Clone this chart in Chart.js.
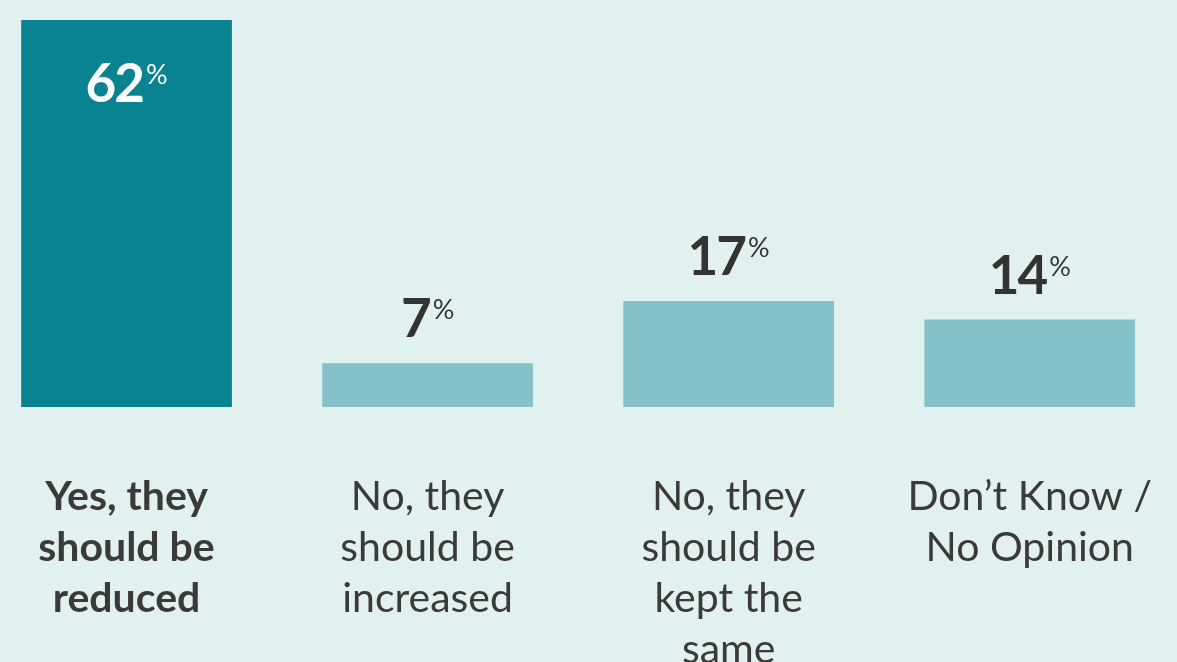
<!DOCTYPE html>
<html>
<head>
<meta charset="utf-8">
<script src="https://cdn.jsdelivr.net/npm/chart.js@4"></script>
<style>
    html, body { margin: 0; padding: 0; background: #e1f1f0; overflow: hidden; }
    .wrap { position: absolute; left: -24px; top: 0; width: 1240px; height: 739px; }
</style>
</head>
<body>
<div class="wrap"><canvas id="chart"></canvas></div>
<script>
var categories = [
    ["Yes, they", "should be", "reduced"],
    ["No, they", "should be", "increased"],
    ["No, they", "should be", "kept the", "same"],
    ["Don\u2019t Know /", "No Opinion"]
];
var values = [62, 7, 17, 14];
var barColors = ["#09838f", "#85c1c9", "#85c1c9", "#85c1c9"];

// big number + small % sign above (or inside) each bar
var valueLabels = {
    id: 'valueLabels',
    afterDatasetsDraw: function (chart) {
        var ctx = chart.ctx;
        var meta = chart.getDatasetMeta(0);
        ctx.save();
        meta.data.forEach(function (bar, i) {
            var num = String(values[i]);
            var inside = i === 0;
            var base = inside ? bar.y + 82 : bar.y - 26;
            ctx.letterSpacing = '-2px';
            ctx.font = 'bold 53px Lato';
            var w1 = ctx.measureText(num).width;
            ctx.letterSpacing = '0px';
            ctx.font = '27px Lato';
            var w2 = ctx.measureText('%').width;
            var x0 = bar.x - (w1 + w2 + 3) / 2;
            ctx.fillStyle = inside ? '#ffffff' : '#333333';
            ctx.textAlign = 'left';
            ctx.textBaseline = 'alphabetic';
            ctx.letterSpacing = '-2px';
            ctx.font = 'bold 53px Lato';
            ctx.fillText(num, x0, base);
            ctx.letterSpacing = '0px';
            ctx.font = '27px Lato';
            ctx.fillText('%', x0 + w1 + 3, base - 18);
        });
        ctx.restore();
    }
};

new Chart(document.getElementById('chart').getContext('2d'), {
    type: 'bar',
    data: {
        labels: categories,
        datasets: [{
            data: values,
            backgroundColor: barColors,
            borderWidth: 0,
            barPercentage: 0.7,
            categoryPercentage: 1
        }]
    },
    options: {
        responsive: true,
        maintainAspectRatio: false,
        animation: false,
        layout: { padding: { top: 20, left: 0, right: 0, bottom: 0 } },
        scales: {
            x: {
                grid: { display: false, drawTicks: false },
                border: { display: false },
                ticks: {
                    color: '#3a3a3a',
                    padding: 64,
                    maxRotation: 0,
                    autoSkip: false,
                    font: function (c) {
                        return { family: 'Lato', size: 41, lineHeight: 1.244, weight: c.index === 0 ? 'bold' : 'normal' };
                    }
                }
            },
            y: {
                display: false,
                min: 0,
                max: 62
            }
        },
        plugins: {
            legend: { display: false },
            tooltip: { enabled: false }
        }
    },
    plugins: [valueLabels]
});
</script>
</body>
</html>
